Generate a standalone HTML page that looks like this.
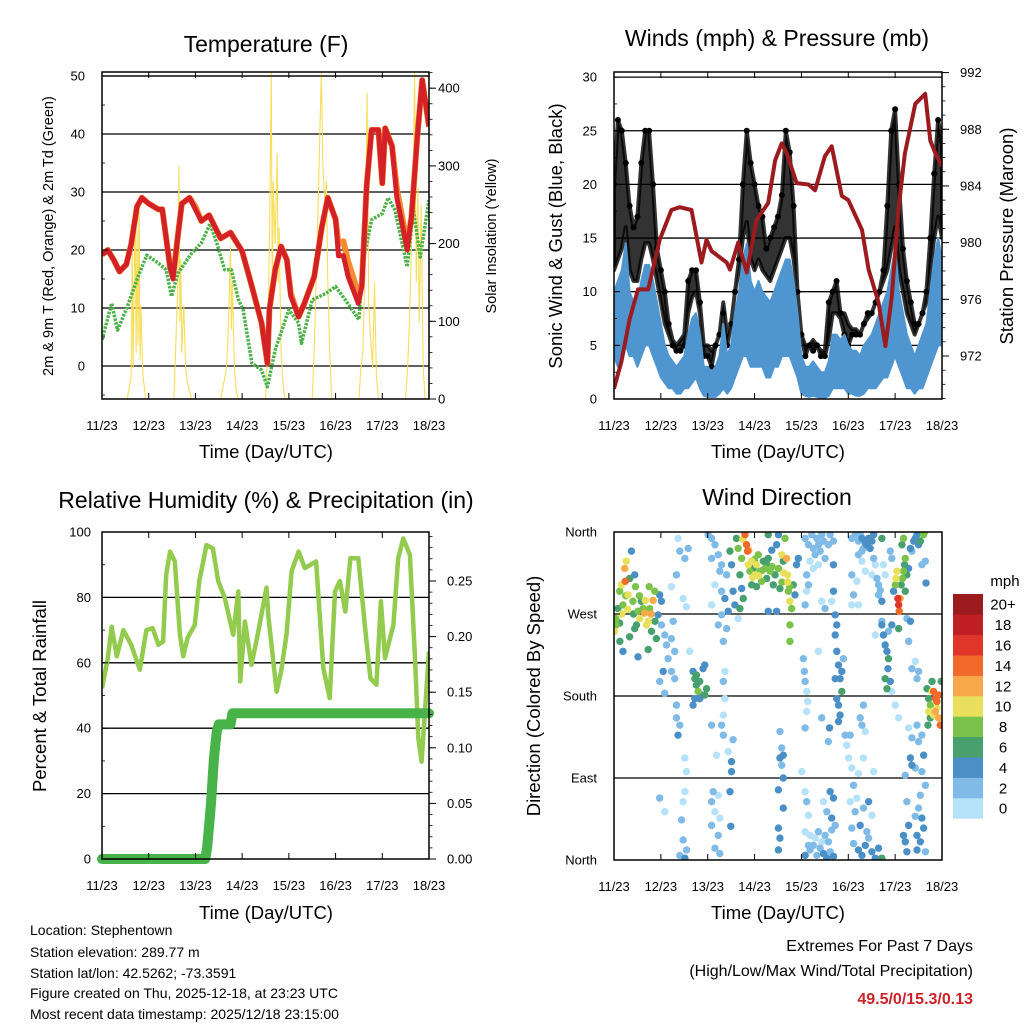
<!DOCTYPE html>
<html><head><meta charset="utf-8">
<style>
html,body{margin:0;padding:0;background:#fff;}
svg{display:block;font-family:"Liberation Sans",Arial,sans-serif;}
</style></head>
<body>
<svg id="chart" width="1024" height="1024" viewBox="0 0 1024 1024" xmlns="http://www.w3.org/2000/svg">
<defs>
<clipPath id="cT"><rect x="102" y="72" width="327" height="327"/></clipPath>
<clipPath id="cW"><rect x="614" y="72" width="328" height="327"/></clipPath>
<clipPath id="cR"><rect x="102" y="532" width="327" height="327"/></clipPath>
<clipPath id="cD"><rect x="614" y="532" width="328" height="328"/></clipPath>
</defs>
<g id="layer"></g>
<text x="266" y="52" font-size="23" text-anchor="middle">Temperature (F)</text>
<text x="777" y="46" font-size="23" text-anchor="middle">Winds (mph) &amp; Pressure (mb)</text>
<text x="266" y="508" font-size="23" text-anchor="middle">Relative Humidity (%) &amp; Precipitation (in)</text>
<text x="777" y="505" font-size="23" text-anchor="middle">Wind Direction</text>
<text transform="translate(53,236) rotate(-90)" font-size="14.5" text-anchor="middle">2m &amp; 9m T (Red, Orange) &amp; 2m Td (Green)</text>
<text transform="translate(496,236) rotate(-90)" font-size="14.5" text-anchor="middle">Solar Insolation (Yellow)</text>
<text transform="translate(562,236) rotate(-90)" font-size="18.5" text-anchor="middle">Sonic Wind &amp; Gust (Blue, Black)</text>
<text transform="translate(1013,236) rotate(-90)" font-size="18.5" text-anchor="middle">Station Pressure (Maroon)</text>
<text transform="translate(46,696) rotate(-90)" font-size="18.5" text-anchor="middle">Percent &amp; Total Rainfall</text>
<text transform="translate(540,696) rotate(-90)" font-size="18.5" text-anchor="middle">Direction (Colored By Speed)</text>
<text x="266" y="458" font-size="18.5" text-anchor="middle">Time (Day/UTC)</text>
<text x="778" y="458" font-size="18.5" text-anchor="middle">Time (Day/UTC)</text>
<text x="266" y="919" font-size="18.5" text-anchor="middle">Time (Day/UTC)</text>
<text x="778" y="919" font-size="18.5" text-anchor="middle">Time (Day/UTC)</text>
<g font-size="14">
<text x="30" y="935">Location: Stephentown</text>
<text x="30" y="957">Station elevation: 289.77 m</text>
<text x="30" y="978">Station lat/lon: 42.5262; -73.3591</text>
<text x="30" y="998">Figure created on Thu, 2025-12-18, at 23:23 UTC</text>
<text x="30" y="1019">Most recent data timestamp: 2025/12/18 23:15:00</text>
</g>
<text x="973" y="951" font-size="16" text-anchor="end">Extremes For Past 7 Days</text>
<text x="973" y="976" font-size="16" text-anchor="end">(High/Low/Max Wind/Total Precipitation)</text>
<text x="973" y="1004" font-size="16" font-weight="bold" fill="#cc2229" text-anchor="end">49.5/0/15.3/0.13</text>
</svg>
<script>
// ---------- data ----------
const dayLabels = ["11/23","12/23","13/23","14/23","15/23","16/23","17/23","18/23"];
const tempHours = [0,3,6,9,12.5,15,18,20.5,24,29,31,33,35,36.5,39,41,45,48,51,55,61,66,72,77,82,85,86,89,92,95,97,101,104,109,113,116,120,121.5,124,126.5,131.7,133.5,136,138.5,142,144,145.5,149,151.5,156.8,159,162,164.5,168];
const tempRed = [19.2,20,18.3,16.3,17.5,21,27.5,29,28,27,27,22,17,15,22.5,28,29,27,25,26,22,23,19.8,13.7,7.4,0.5,9.7,16.6,20.6,18.3,12,8.5,10.8,15.4,24,29,25.3,19,19,15.4,10.8,13.7,31.2,40.7,40.7,31.5,41,37.9,29,20,25.7,39.5,49.3,41.3];
const tempOrange = [19.2,20,18.3,16.3,17.5,21,27.5,29,28,27,27,22,17,15.5,22.5,28,29,27.5,25,26,22,23,19.8,13.7,7.4,0.5,9.7,16.6,20.6,18.3,12.5,8.5,10.8,15.4,24,29,25.3,21,21.5,18,12.5,14,31.2,40.7,40.7,31.5,41,38,30.5,21,25.7,39.5,49.3,41.3];
const tdHours = [0,5,8,13,18.5,23,29,33,35.7,39,46,51,55.5,59,63,66.5,70,72.5,77,82,85,89,96,101,102.5,108,115,120,125,132,134,138.5,144,147,150.5,156.8,160,163.5,168];
const tdVals = [4.5,10.8,6.2,10.2,15.4,19.1,17.7,16.6,12,16,19.4,21.2,24.5,21.2,16.6,16.6,11.5,9.7,0.5,-0.7,-3.6,2.8,9.7,7.4,3.9,11.4,12.5,13.7,11.4,8,17.7,25.2,26.3,29,26.9,17.1,26.9,18.8,28.6];
const solarHours = [0,13,15,15.5,16,17,17.5,18,18.5,19,19.5,20,21,22.5,37,38,39,39.5,40,40.5,41,42,43,44,46,61,64,65,66,66.5,67,68,69,70,84,85,86,87,87.5,88,89,90,90.5,91,92,93,94,108,109,110,111,112,112.7,113.5,114.5,115.3,116,117,118,132,133,134,135,136.2,137,138,139,140,141,142,156,157,158,159,160,160.6,161.5,162.3,163,164,165,166,168];
const solarVals = [0,0,30,200,40,245,60,217,70,260,50,120,30,0,0,80,150,300,100,180,60,120,40,20,0,0,40,100,196,90,150,40,10,0,0,60,200,420,120,280,200,316,150,220,60,20,0,0,60,150,250,350,420,300,250,280,150,60,0,0,40,60,150,394,120,80,40,150,30,0,0,40,100,200,300,420,150,272,100,250,40,0,0];
const windStepHours = 2;
const windUpper = [10,11,12,14.5,10,9,9,11,12.5,12.5,11,9,7,5,4,3.5,3,3.5,4,6,7.5,8,6,3,3,2.5,3,4,7,4,5,8,10,13,14.5,11,10,11,10,9.5,9,10,11,12,13,13,11,8,4,3,3,3.5,3,2.5,2.5,3.5,6,6,5.5,6,5,4.5,4.5,4,5,5.5,6,7,8,9,10,12,14,10,8,6,5,4,5,6,7,10,13,15,13];
const windLower = [4,3,4,5,4,4,3,4,5,5,4,3,2,1.5,1,1,0.5,0.5,1,1,1.5,2,1,0.3,0.2,0.2,0.2,0.5,1,0.5,1,2,3,4,4,3,3,3,3,2,2,3,3,4,4,4,3,2,0.5,0.3,0.2,0.3,0.2,0.1,0.1,0.3,1,1,1,1,0.5,0.5,0.3,0.3,0.5,1,1,1,1.5,2,2,3,4,3,2,1,1,0.5,1,1,2,3,4,5,5];
const gustHigh = [20,26,25,22,18,16,17,22,25,25,20,14,12,10,7,5,4.5,4.5,5,11,12,12,9,4,4,3,5,6,8,5,7,10,13,20,25,22,20,18,17,14,15,16,17,19,25,23,18,10,6,4,5,4.5,5,4,4,9,10,11,8,6,5,6,6,6,7,8,8,9,10,12,18,25,27,20,14,11,9,7,7,8,10,15,21,26,24];
const gustLow = [12,13,14,16,12,11,11,13,14.5,14.5,13,11,9,7,6,5.5,5,5.5,6,8,9.5,10,8,5,5,4.5,5,6,9,6,7,10,12,15,16.5,13,12,13,12,11.5,11,12,13,14,15,15,13,10,6,5,5,5.5,5,4.5,4.5,5.5,8,8,7.5,8,7,6.5,6.5,6,7,7.5,8,9,10,11,12,14,16,12,10,8,7,6,7,8,9,12,15,17,15];
const presHours = [0,3.8,8,12.3,17.5,23.4,29.4,33.7,39.7,44.8,47.4,50,57.7,59.4,63.6,68,73,79,82.5,85.9,88.5,93.6,99.6,103,108,111.5,116.7,120,127,130.4,135.5,139,142.3,145.8,149,154.3,159.4,162,164.6,168];
const presVals = [969.7,971.6,974.6,976.7,976.7,980.2,982.3,982.5,982.3,978.6,980.2,979.4,978.6,978.1,980,977.9,981.6,982.8,985.8,987,986.3,984.2,984.1,983.7,986.1,986.8,983.3,983,980.9,978.1,975.8,972.7,976.2,982.5,986.3,989.8,990.5,987.2,986.3,985.4];
const rhHours = [0,3,5,7.6,11,15,19.4,22.8,26,29,31.4,33,35,37.4,40,41.7,44,47.7,50,53.7,57,59.7,63,67.4,70,71,73.4,76.8,80,84.5,85.4,89.7,92,94.8,97.4,101,104.2,110,113.7,117,119.7,122.2,125,127.6,131.7,135,137.9,141,143.3,145.4,149.7,152.2,154.8,158.2,160.8,162.5,164.2,168];
const rhVals = [52.2,61.4,71,62,70,65.5,57.9,70,70.6,65.5,66.5,87,94,91,68.6,62,67.6,71.6,85,96,95,85,80,68.6,81.8,54.3,72.6,59.4,68.6,83,74.7,51.2,57.3,68.6,88,94,89,91,58.4,49.2,81.8,85,75.7,92,92,71.6,55.3,53.3,78.8,61.4,71.6,92,98,93,61.4,37,29.8,63.5];
const precipHours = [0,53,54,55,56,57.5,59,60,66,67,168];
const precipVals = [0,0,0.01,0.03,0.05,0.09,0.115,0.121,0.121,0.131,0.131];
const speedBinLabels = ["0","2","4","6","8","10","12","14","16","18","20+"];
const speedBinColors = ["#b5e2f8","#7fbbe6","#4a8fc6","#47a06e","#7bc24a","#e8e05a","#f8a94a","#f26a2b","#e0362a","#c01f26","#9b1b1e"];
// [hour, direction deg, speed mph]
const windDirObs = [
[0.3,251,10],[1.2,258,8],[2,276,6],[2.9,295,8],[3.8,302,10],[4.6,280,8],[5.5,320,12],[5.8,306,14],[6.3,328,10],[7.2,291,10],[8,309,6],[8.9,339,4],[9.7,284,8],[10.6,313,4],[11.5,258,6],[12.3,273,8],[13.2,265,10],[14,284,6],[14.9,276,8],[15.7,271,12],[16.6,258,10],[17.5,262,10],[18.3,276,8],[19.2,251,6],[20,285,12],[20.9,295,8],[21.7,243,6],[22.6,269,4],[23.4,291,4],[24.3,284,4],[4.6,229,4],[12.3,223,4],[17.5,231,6],[8,245,6],[2.9,260,6],[10.6,254,6],
[1,265,8],[3,240,6],[6,290,8],[7,275,10],[10,270,6],[13,290,8],[16,285,10],[18,300,8],[19,270,12],[21,262,6],[11,300,8],[4,270,10],
[24.3,258,2],[26,247,2],[26.9,236,2],[27.7,221,2],[29.4,243,2],[30.3,262,2],[31.1,229,2],[25.2,207,4],[26,183,2],[23.4,196,2],[29.4,207,2],[31.1,199,2],[32,170,2],[32,156,2],[32.8,137,4],[33.7,148,2],[36.3,112,0],[37.1,97,0],[32.8,353,0],[33.7,339,2],[36.3,331,2],[32,313,2],[35.4,287,0],[37.1,278,0],[36.3,75,0],[35.4,64,0],[34.6,44,2],[35.4,22,2],[37.1,11,2],[33.7,5,2],[36.3,2,4],[23.4,68,2],[26,53,0],[29.4,300,0],[38,342,2],[38.8,229,0],
[40.5,207,4],[41.4,199,6],[42.2,192,6],[43.1,185,8],[43.9,196,6],[44.8,181,4],[45.6,210,4],[46.5,214,4],[47.4,188,6],[41.4,177,4],[40.5,170,4],[43.9,177,4],[46.5,181,6],[42.2,203,6],
[48.2,357,2],[50,353,2],[51.7,346,2],[53.4,335,2],[50,331,2],[55.1,324,2],[51.7,302,0],[50,280,0],[55.1,269,2],[53.4,258,2],[57.7,254,2],[56,240,2],[56.8,207,0],[56,196,2],[56.8,177,0],[56,159,0],[55.1,148,2],[56,137,2],[50,148,2],[52.5,115,0],[60.2,108,4],[60.2,97,4],[50.8,75,2],[53.4,71,0],[50,64,2],[51.7,53,0],[54.2,46,0],[50,38,2],[53.4,27,2],[51.7,13,2],[54.2,7,2],[59.4,75,4],[59.8,37,4],[61,132,2],[58.5,119,0],
[59.4,339,6],[60.2,324,4],[61,295,4],[61.9,280,4],[62.7,353,6],[63.6,342,8],[64.5,313,6],[65.4,331,8],[66.2,287,6],[67.1,357,14],[67.9,346,14],[68.4,339,14],[68.8,324,10],[69.6,317,8],[70.5,328,10],[71.3,320,6],[72.2,313,10],[73,324,10],[73.9,335,8],[74.8,317,8],[75.6,306,8],[76.5,328,6],[77.3,320,8],[78.2,309,6],[79,331,6],[79.9,317,8],[80.8,340,4],[81.6,302,6],[82.5,313,6],[83.3,346,4],[84.2,320,8],[85,298,6],[85.9,335,10],[86.7,328,6],[87.6,353,8],[88.4,331,12],[88.9,313,10],[89.3,295,8],[90.1,284,10],[91,276,8],[91.8,302,6],[92.7,291,4],[93.5,324,4],[94.4,331,4],[90.1,258,8],[90.1,240,8],[79,357,6],[84.2,357,4],[83.3,273,4],[79,273,4],[70.5,302,6],[73,300,6],[57.7,313,2],[56.8,287,4],[58.5,273,4],[55.1,295,2],[54.2,317,2],[64.5,276,6],[65.4,298,4],[63.6,265,0],
[71,310,10],[72,330,8],[74,312,10],[76,318,8],[78,325,6],[81,322,8],[86,305,8],[87,315,10],[89,305,10],[90,300,8],[69,340,12],[66,352,10],
[85,141,2],[85.9,123,2],[85,112,4],[85.9,104,2],[86.7,90,4],[84.2,77,4],[86.7,57,4],[84.2,35,4],[85,24,4],[84.2,11,4],[86.7,115,4],
[97.9,353,2],[99.6,346,2],[101.3,357,2],[102.1,342,2],[103,335,2],[103.9,353,2],[104.7,346,2],[105.6,339,2],[106.4,357,2],[107.3,350,2],[108.1,331,2],[109.8,346,2],[110.7,357,2],[112.4,350,2],[100.4,328,0],[102.1,320,0],[98.7,313,2],[104.7,324,0],[112.4,324,4],[112.4,295,4],[111.5,284,0],[113.3,269,4],[114.1,258,4],[98.7,295,0],[97.9,280,2],[99.6,302,2],[106.4,284,0],[108.1,276,2],[104.7,229,0],
[97,221,2],[97.5,207,2],[97.9,196,2],[98.7,185,0],[99.2,174,0],[98.7,163,0],[97.9,145,2],[96.2,97,0],[97.9,75,0],[98.7,64,2],[99.6,49,0],[97.9,31,0],[99.6,16,2],[97.9,5,4],[100.4,11,2],[102.1,16,2],[103.9,5,2],[105.6,13,2],[107.3,7,4],[109,2,4],[110.7,9,2],[112.4,4,4],[100.4,27,0],[103,24,0],[104.7,31,2],[106.4,20,0],[108.1,27,2],[109.8,20,2],[111.5,33,2],[113.3,38,2],[111.5,46,4],[112.4,68,4],[110.7,75,4],[109,53,2],[107.3,64,0],
[113.3,247,4],[114.1,229,4],[115,214,4],[115.8,199,4],[116.7,185,6],[115,170,4],[115.8,159,4],[115,152,4],[116.7,207,4],[117.5,221,2],[113.3,199,4],[114.1,177,4],[110.4,145,4],[109.8,130,2],[106.4,156,2],[118.4,137,2],[119.2,126,0],[121,137,2],[120.1,112,0],[121.8,101,0],[125.2,95,0],[122.7,82,2],[124.4,68,0],[121,64,0],[123.5,53,2],[121.8,35,2],[122.7,18,2],[125.2,11,4],[127,5,4],[128.7,16,4],[130.4,24,2],[132.1,9,4],[133.8,2,4],[135.5,13,4],[137.2,2,6],[129.5,31,2],[132.1,49,0],[127.8,57,2],[130.4,64,4],[126.1,38,4],[121.8,280,0],[122.7,291,2],[125.2,280,0],[126.1,156,2],[127.8,170,2],[127,148,2],[128.7,141,0],[127.8,112,0],[133,97,0],
[121.8,353,2],[123.5,357,2],[125.2,350,2],[127,353,4],[128.7,348,4],[130.4,353,4],[131.2,342,4],[132.1,350,4],[133,357,4],[129.5,346,4],[127.8,342,2],[126.1,357,2],[125.2,335,2],[127,339,2],[121.8,313,2],[124.4,306,0],[127,328,0],[128.7,317,0],[132.1,313,0],[133.8,324,0],[134.7,309,2],[135.5,302,2],[136.4,296,2],[137.2,284,4],[137.2,353,6],[135.5,291,2],[137.2,258,4],[133.8,247,0],[141.5,339,2],[142.3,331,2],[138,324,0],[138.9,313,0],[133,331,2],
[137.2,262,2],[138,247,4],[138.9,236,4],[139.8,229,4],[140.6,221,6],[140.3,210,4],[138.9,199,6],[139.8,188,6],[141.5,196,4],[140.6,251,2],[142.3,258,4],[143.2,295,4],[144.1,302,8],[144.4,309,10],[144.9,317,10],[145.4,287,16],[145.8,280,16],[146.1,273,14],[146.6,287,12],[147.1,302,6],[147.8,309,8],[148.3,317,8],[148.8,324,6],[149.2,331,8],[149.2,295,6],[150,313,6],[148.3,353,8],[147.5,346,6],[150.9,320,4],[151.8,342,4],[152.6,339,2],[153.5,350,4],[154.3,353,4],[155.2,357,4],[156,346,4],[156.9,350,6],[158.6,357,8],[159.1,360,8],[159.8,304,4],[157.7,324,2],[159.5,328,2],[151.8,262,4],[150,265,2],[145.8,254,6],[150.9,240,2],[142.3,185,0],[144.1,170,0],[145.8,156,0],[150.9,145,0],[152.6,134,2],[151.8,112,4],[152.6,104,4],[155.2,148,2],[156,130,2],[157.7,137,2],[158.6,115,4],[154.3,101,2],[157.7,97,2],[159.5,82,2],[156.9,71,2],[156,57,2],[154.3,48,2],[157.7,46,4],[158.6,35,4],[155.2,27,4],[156.9,20,4],[155.2,11,4],[159.5,9,2],[148.3,27,4],[149.2,20,4],[150,9,4],[150.9,38,4],[150,64,2],[149.2,93,2],[152.6,210,2],[156,207,2],[155.2,199,2],[154.3,218,0],
[160.3,188,6],[161.2,177,6],[162,170,8],[162.9,196,6],[163.7,185,14],[164.6,177,14],[165.4,174,14],[166.3,181,14],[167.1,148,14],[167.6,196,6],[161.2,163,10],[162,156,6],[162.9,185,10],[164.6,163,12],[165.4,167,10],[166.3,156,12],[160.8,148,6],[163.7,159,10]
];
const tempTicks = [0,10,20,30,40,50];
const solarTicks = [0,100,200,300,400];
const windTicks = [0,5,10,15,20,25,30];
const presTicks = [972,976,980,984,988,992];
const rhTicks = [0,20,40,60,80,100];
const precipTicks = [0,0.05,0.10,0.15,0.20,0.25];
const dirTicks = [0,90,180,270,360];
const dirTickLabels = ["North","East","South","West","North"];

// ---------- scales ----------
const NS = "http://www.w3.org/2000/svg";
const layer = document.getElementById("layer");
const P = {
  T:{x0:102,x1:429,y0:72,y1:399},
  W:{x0:614,x1:942,y0:72,y1:399},
  R:{x0:102,x1:429,y0:532,y1:859},
  D:{x0:614,x1:942,y0:532,y1:860}
};
const xH = (p,h) => p.x0 + h/168*(p.x1-p.x0);
const yTemp = v => 366 - v*5.8;
const ySolar = v => 399 - v*0.777;
const yWind = v => 399 - v*10.73;
const yPres = v => 356 - (v-972)*14.17;
const yRH = v => 859 - v*3.27;
const yPrecip = v => 859 - v*1112;
const yDir = d => 860 - d*(328/360);

function el(tag, attrs, parent){
  const e = document.createElementNS(NS, tag);
  for (const k in attrs) e.setAttribute(k, attrs[k]);
  (parent||layer).appendChild(e);
  return e;
}
function pts(p, hours, vals, yf){
  return hours.map((h,i)=>xH(p,h).toFixed(1)+","+yf(vals[i]).toFixed(1)).join(" ");
}

function grid(p, ticks, yf, name){
  const g = el("g",{});
  
  
  ticks.forEach(t=>{
    const y = yf(t);
    if (y > p.y0 && y < p.y1-1) el("line",{x1:p.x0,x2:p.x1,y1:y,y2:y,stroke:"#000","stroke-width":1.3},g);
  });
}
grid(P.T, tempTicks, yTemp, "temperature-gridlines");
grid(P.W, windTicks, yWind, "wind-gridlines");
grid(P.R, rhTicks, yRH, "humidity-gridlines");
grid(P.D, dirTicks, yDir, "direction-gridlines");

// ---------- temperature panel ----------
const gT = el("g",{"clip-path":"url(#cT)"});


const sol = el("polyline",{points:pts(P.T,solarHours,solarVals,ySolar),fill:"none",stroke:"#f7dd5a","stroke-width":1.1,"stroke-linejoin":"round"},gT);


const td = el("polyline",{points:pts(P.T,tdHours,tdVals,yTemp),fill:"none",stroke:"#4cb148","stroke-width":3.5,"stroke-dasharray":"2.5 1.3","stroke-linejoin":"round"},gT);


const orn = el("polyline",{points:pts(P.T,tempHours,tempOrange,yTemp),fill:"none",stroke:"#f58a2e","stroke-width":6,"stroke-linejoin":"round"},gT);


const red = el("polyline",{points:pts(P.T,tempHours,tempRed,yTemp),fill:"none",stroke:"#d42027","stroke-width":5,"stroke-linejoin":"round"},gT);



// ---------- wind panel ----------
const gW = el("g",{"clip-path":"url(#cW)"});


const gHiPts = gustHigh.map((v,i)=>xH(P.W,i*windStepHours).toFixed(1)+","+yWind(Math.max(v,gustLow[i])).toFixed(1));
const gLoPts = gustLow.map((v,i)=>xH(P.W,i*windStepHours).toFixed(1)+","+yWind(Math.min(v,gustHigh[i])).toFixed(1)).reverse();
const gpoly = el("polygon",{points:gHiPts.concat(gLoPts).join(" "),fill:"#000","fill-opacity":0.8,stroke:"#000","stroke-width":4,"stroke-opacity":0.8,"stroke-linejoin":"round"},gW);


gustHigh.forEach((v,i)=>{
  const c = el("circle",{cx:xH(P.W,i*windStepHours),cy:yWind(v),r:3,fill:"#000"},gW);
  
  
});
const upPts = windUpper.map((v,i)=>xH(P.W,i*windStepHours).toFixed(1)+","+yWind(v).toFixed(1));
const loPts = windLower.map((v,i)=>xH(P.W,i*windStepHours).toFixed(1)+","+yWind(v).toFixed(1)).reverse();
const wpoly = el("polygon",{points:upPts.concat(loPts).join(" "),fill:"#4f96d0",stroke:"#4f96d0","stroke-width":2,"stroke-linejoin":"round"},gW);


const pres = el("polyline",{points:pts(P.W,presHours,presVals,yPres),fill:"none",stroke:"#9b1b1e","stroke-width":4,"stroke-linejoin":"round"},gW);



// ---------- RH panel ----------
const gR = el("g",{"clip-path":"url(#cR)"});


const rh = el("polyline",{points:pts(P.R,rhHours,rhVals,yRH),fill:"none",stroke:"#93cb4e","stroke-width":4.5,"stroke-linejoin":"round"},gR);


const pr = el("polyline",{points:pts(P.R,precipHours,precipVals,yPrecip),fill:"none",stroke:"#48b348","stroke-width":10,"stroke-linejoin":"round","stroke-linecap":"round"},layer);



// ---------- direction panel ----------
const gD = el("g",{"clip-path":"url(#cD)"});


const sorted = windDirObs.slice().sort((a,b)=>a[2]-b[2]);
sorted.forEach(o=>{
  const idx = Math.min(10, Math.round(o[2]/2));
  const c = el("circle",{cx:xH(P.D,o[0]),cy:yDir(o[1]),r:3.7,fill:speedBinColors[idx]},gD);
  
  
});

// colorbar
const cb = el("g",{});


const boxH = 20.4;
speedBinColors.forEach((c,i)=>{
  const y = 594 + (10-i)*boxH;
  const r = el("rect",{x:953,y:y,width:30,height:boxH+0.3,fill:c},cb);
  
  
  const t = el("text",{x:1003,y:y+boxH/2+5.5,"font-size":15,"text-anchor":"middle"},cb);
  t.textContent = speedBinLabels[i];
  
  
});
const mph = el("text",{x:1005,y:586,"font-size":15,"text-anchor":"middle"},cb);
mph.textContent = "mph";



// ---------- axes / frames ----------
function frame(p, name){
  const r = el("rect",{x:p.x0,y:p.y0,width:p.x1-p.x0,height:p.y1-p.y0,fill:"none",stroke:"#000","stroke-width":1.5});
  
  
  dayLabels.forEach((d,i)=>{
    const x = xH(p, i*24);
    el("line",{x1:x,x2:x,y1:p.y0,y2:p.y0+6,stroke:"#000","stroke-width":1});
    el("line",{x1:x,x2:x,y1:p.y1,y2:p.y1-6,stroke:"#000","stroke-width":1});
    const t = el("text",{x:x,y:p.y1+31,"font-size":13,"text-anchor":"middle"});
    t.textContent = d;
    
    
  });
}
function leftAxis(p, ticks, labels, yf, minorStep, minorLo, minorHi, off){
  ticks.forEach((v,i)=>{
    const y = yf(v);
    el("line",{x1:p.x0,x2:p.x0+6,y1:y,y2:y,stroke:"#000","stroke-width":1});
    const t = el("text",{x:p.x0-off,y:y+4.5,"font-size":13,"text-anchor":"end"});
    t.textContent = labels ? labels[i] : v;
    
    
  });
  if (minorStep) for (let v=minorLo; v<=minorHi+1e-9; v+=minorStep){
    const y=yf(v); if (y>=p.y0 && y<=p.y1) el("line",{x1:p.x0,x2:p.x0+3,y1:y,y2:y,stroke:"#000","stroke-width":0.8});
  }
}
function rightAxis(p, ticks, labels, yf, minorStep, minorLo, minorHi, off){
  ticks.forEach((v,i)=>{
    const y = yf(v);
    el("line",{x1:p.x1,x2:p.x1+7,y1:y,y2:y,stroke:"#000","stroke-width":1});
    const t = el("text",{x:p.x1+off,y:y+4.5,"font-size":13,"text-anchor":"start"});
    t.textContent = labels[i];
    
    
  });
  for (let v=minorLo; v<=minorHi+1e-9; v+=minorStep){
    const y=yf(v); if (y>=p.y0 && y<=p.y1) el("line",{x1:p.x1,x2:p.x1+3.5,y1:y,y2:y,stroke:"#000","stroke-width":0.8});
  }
}
frame(P.T,"temperature-frame");
frame(P.W,"winds-frame");
frame(P.R,"humidity-frame");
frame(P.D,"direction-frame");
leftAxis(P.T, tempTicks, null, yTemp, 5, -5, 50, 17);
rightAxis(P.T, solarTicks, solarTicks.map(String), ySolar, 20, 0, 420, 9);
leftAxis(P.W, windTicks, null, yWind, 2.5, 0, 30, 17);
rightAxis(P.W, presTicks, presTicks.map(String), yPres, 1, 969, 992, 18);
leftAxis(P.R, rhTicks, null, yRH, 10, 0, 100, 11);
rightAxis(P.R, precipTicks, precipTicks.map(v=>v.toFixed(2)), yPrecip, 0.01, 0, 0.29, 18);
leftAxis(P.D, dirTicks, dirTickLabels, yDir, 0, 0, 0, 17);
el("line",{x1:P.T.x0,x2:P.T.x1,y1:yTemp(50),y2:yTemp(50),stroke:"#000","stroke-width":1.3});
</script>
</body></html>
